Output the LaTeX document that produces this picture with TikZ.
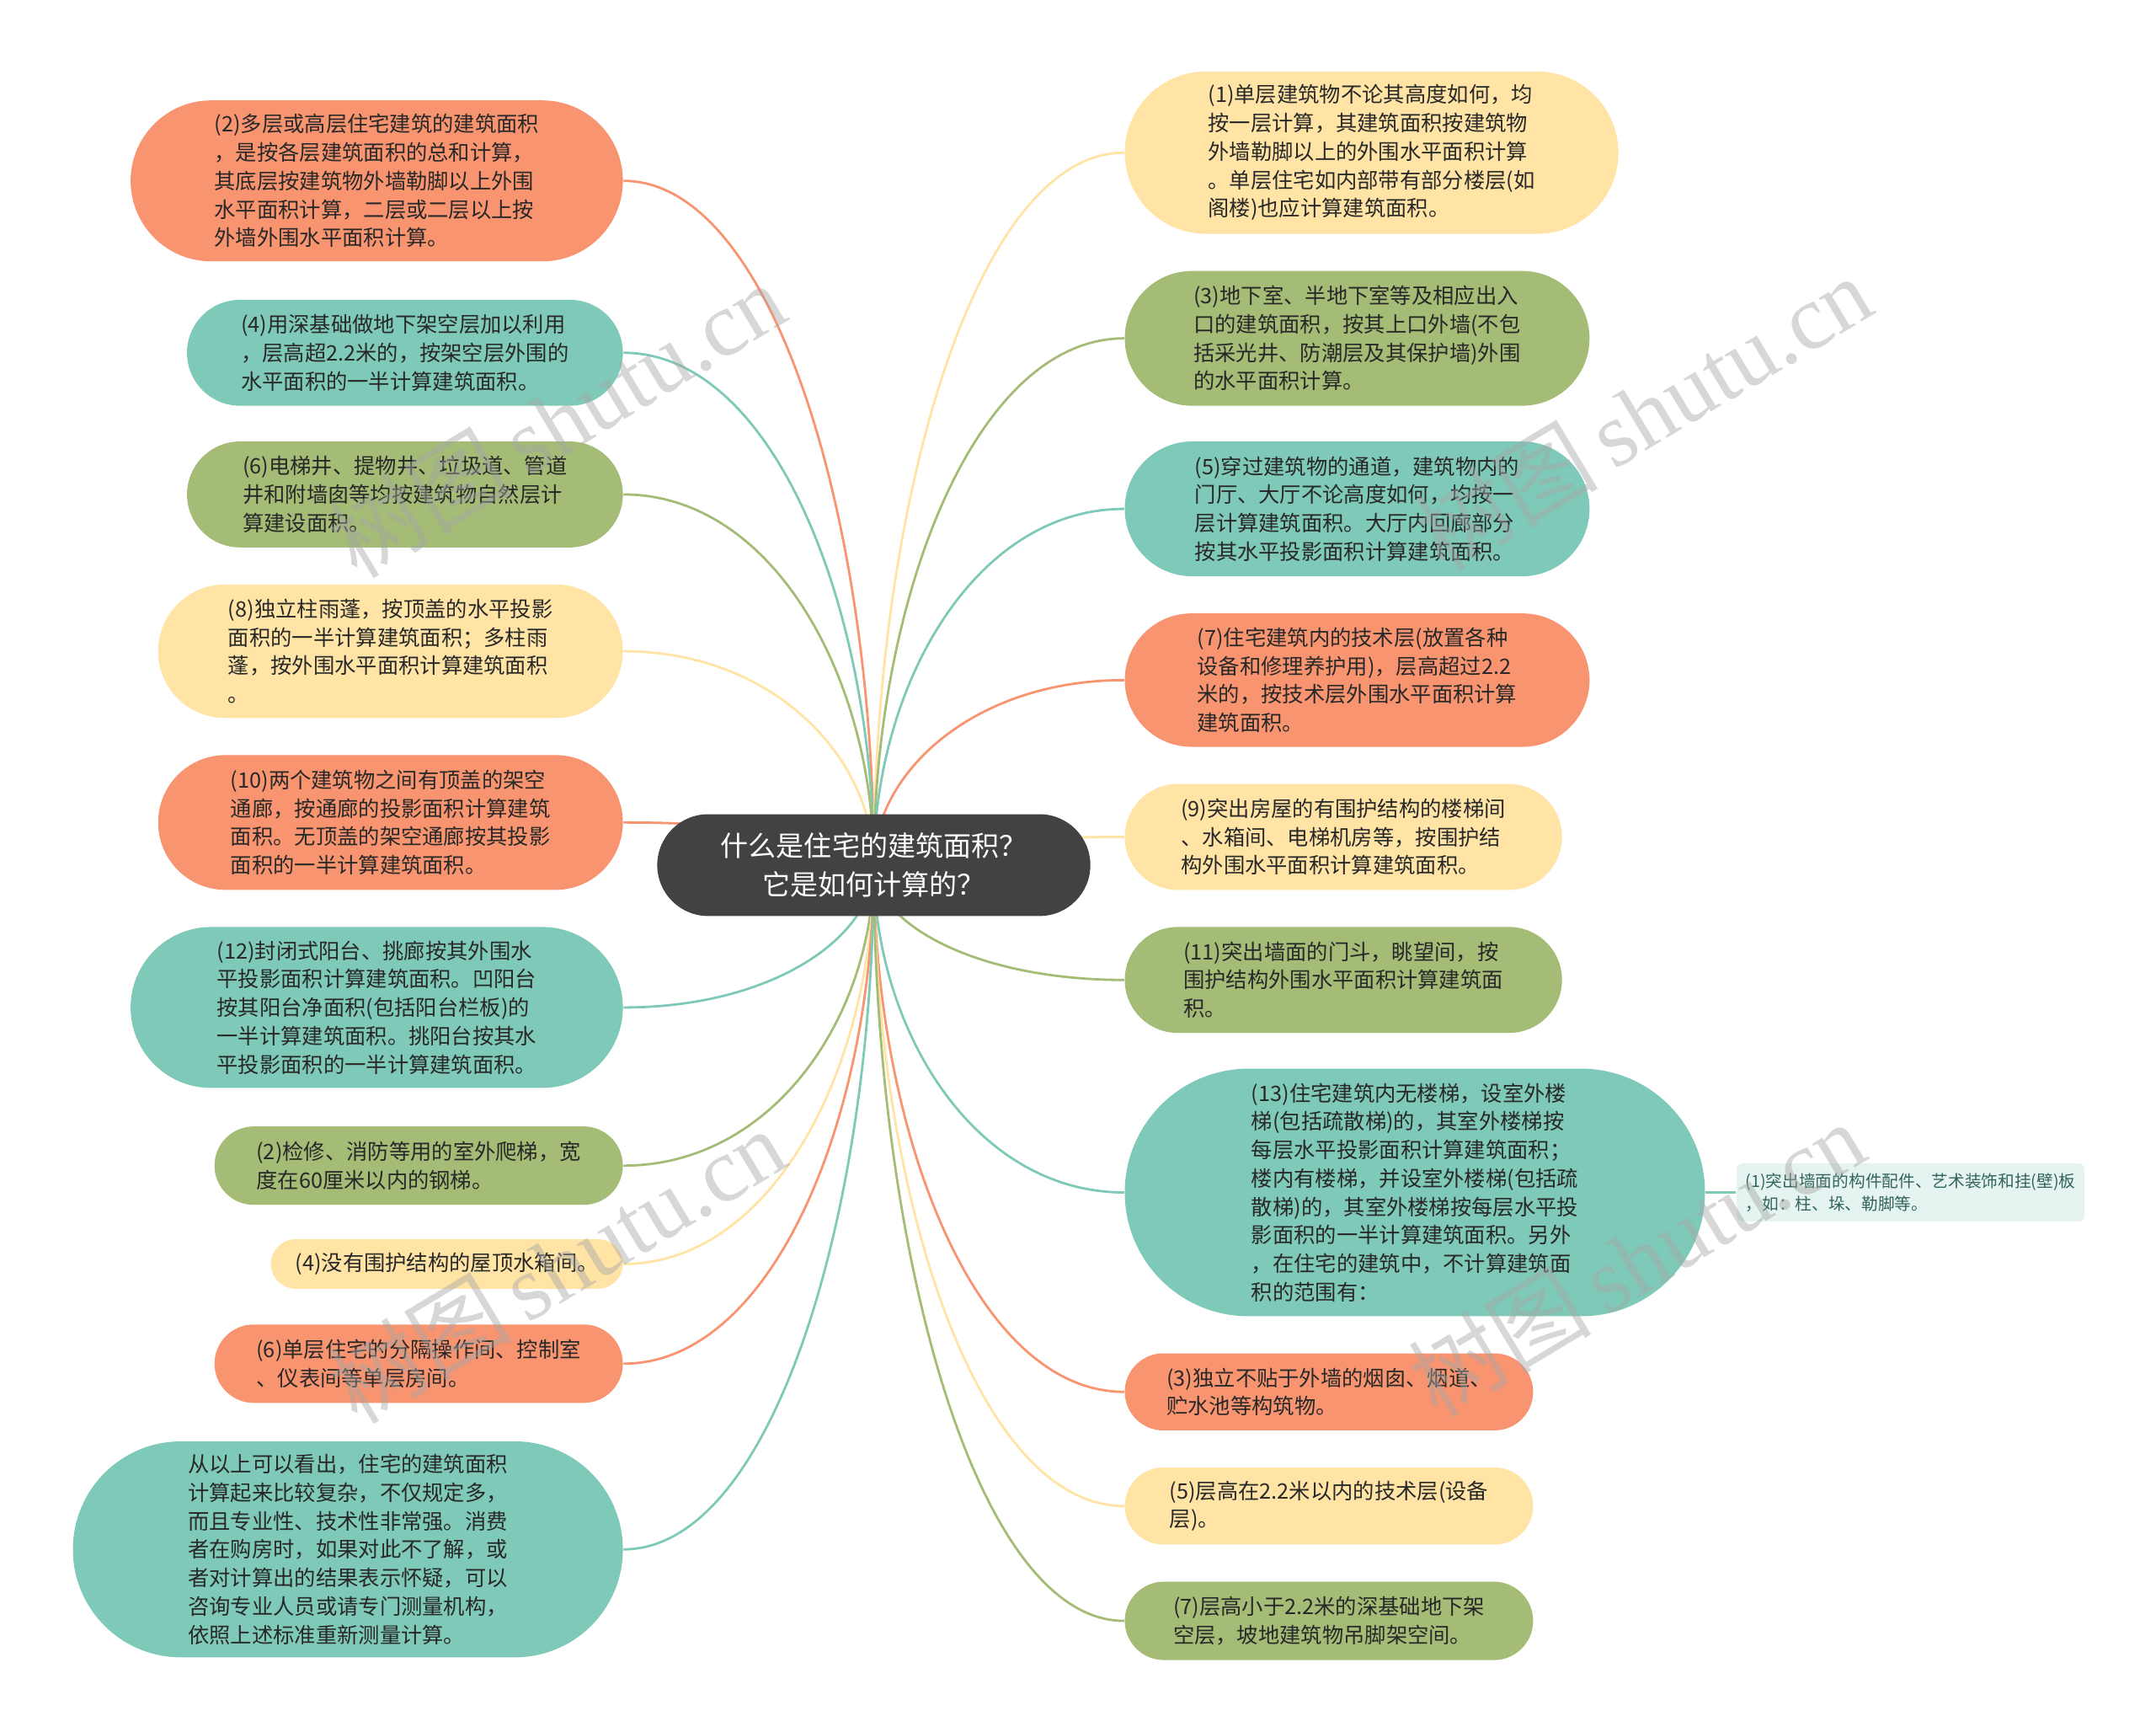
\documentclass[tikz,border=0pt]{standalone}
\usepackage{fontspec}
\setmainfont{Noto Sans CJK SC}
\newfontfamily\markfont{Liberation Serif}
\usepackage{tikz}
\usetikzlibrary{calc}
\usepackage{xcolor}
\definecolor{leaforange}{RGB}{248,149,112}
\definecolor{leafteal}  {RGB}{127,201,185}
\definecolor{leafgreen} {RGB}{164,188,118}
\definecolor{leafyellow}{RGB}{255,228,166}
\definecolor{rootgrey}  {RGB}{66 ,66 ,66 }
\definecolor{leaftext}  {RGB}{40 ,40 ,40 }
\definecolor{notefill}  {RGB}{229,244,240}
\definecolor{notetext}  {RGB}{50 ,100,90 }
\newdimen\spx
\spx=0.016327cm
\pgfdeclarelayer{background}
\pgfdeclarelayer{foreground}
\pgfsetlayers{background,main,foreground}

\begin{document}
\begin{tikzpicture}[
  x=\spx, y=-\spx,
  root/.style={fill=rootgrey, text=white, align=center, inner sep=0pt,
    font=\fontsize{9.4}{13}\selectfont, minimum width=315\spx, minimum height=74\spx,
    rounded corners=37\spx},
  leaf/.style n args={3}{fill=#1, text=leaftext, align=left, inner sep=0pt,
    font=\fontsize{7.2}{9.6}\selectfont, minimum width=#2\spx, minimum height=#3\spx,
    rounded corners=0.5*#3\spx},
  note/.style={fill=notefill, text=notetext, align=left, inner sep=0pt,
    font=\fontsize{5.6}{7.6}\selectfont, minimum width=253\spx, minimum height=42\spx,
    rounded corners=4\spx},
  branch/.style={draw=#1, line width=0.8pt},
  wmark/.style={text=gray!70, opacity=0.45, rotate=31, font=\fontsize{31}{31}\selectfont}
]
  \useasboundingbox (0,0) rectangle (1568,1259);

  % Root
  \node[root] (root) at (635.5,629) {什么是住宅的建筑面积？\\它是如何计算的？};

  % Left branches
  \node[leaf={leaforange}{358}{117}] (l1) at (274,131.5) {(2)多层或高层住宅建筑的建筑面积\\，是按各层建筑面积的总和计算，\\其底层按建筑物外墙勒脚以上外围\\水平面积计算，二层或二层以上按\\外墙外围水平面积计算。};
  \node[leaf={leafteal}{317}{77}] (l2) at (294.5,256.5) {(4)用深基础做地下架空层加以利用\\，层高超2.2米的，按架空层外围的\\水平面积的一半计算建筑面积。};
  \node[leaf={leafgreen}{317}{77}] (l3) at (294.5,359.5) {(6)电梯井、提物井、垃圾道、管道\\井和附墙囱等均按建筑物自然层计\\算建设面积。};
  \node[leaf={leafyellow}{338}{97}] (l4) at (284,473.5) {(8)独立柱雨蓬，按顶盖的水平投影\\面积的一半计算建筑面积；多柱雨\\蓬，按外围水平面积计算建筑面积\\。};
  \node[leaf={leaforange}{338}{98}] (l5) at (284,598) {(10)两个建筑物之间有顶盖的架空\\通廊，按通廊的投影面积计算建筑\\面积。无顶盖的架空通廊按其投影\\面积的一半计算建筑面积。};
  \node[leaf={leafteal}{358}{117}] (l6) at (274,732.5) {(12)封闭式阳台、挑廊按其外围水\\平投影面积计算建筑面积。凹阳台\\按其阳台净面积(包括阳台栏板)的\\一半计算建筑面积。挑阳台按其水\\平投影面积的一半计算建筑面积。};
  \node[leaf={leafgreen}{297}{57}] (l7) at (304.5,847.5) {(2)检修、消防等用的室外爬梯，宽\\度在60厘米以内的钢梯。};
  \node[leaf={leafyellow}{256}{36}] (l8) at (325,919) {(4)没有围护结构的屋顶水箱间。};
  \node[leaf={leaforange}{297}{57}] (l9) at (304.5,991.5) {(6)单层住宅的分隔操作间、控制室\\、仪表间等单层房间。};
  \node[leaf={leafteal}{400}{157}] (l10) at (253,1126.5) {从以上可以看出，住宅的建筑面积\\计算起来比较复杂，不仅规定多，\\而且专业性、技术性非常强。消费\\者在购房时，如果对此不了解，或\\者对计算出的结果表示怀疑，可以\\咨询专业人员或请专门测量机构，\\依照上述标准重新测量计算。};

  % Right branches
  \node[leaf={leafyellow}{359}{118}] (r1) at (997.5,111) {(1)单层建筑物不论其高度如何，均\\按一层计算，其建筑面积按建筑物\\外墙勒脚以上的外围水平面积计算\\。单层住宅如内部带有部分楼层(如\\阁楼)也应计算建筑面积。};
  \node[leaf={leafgreen}{338}{98}] (r2) at (987,246) {(3)地下室、半地下室等及相应出入\\口的建筑面积，按其上口外墙(不包\\括采光井、防潮层及其保护墙)外围\\的水平面积计算。};
  \node[leaf={leafteal}{338}{98}] (r3) at (987,370) {(5)穿过建筑物的通道，建筑物内的\\门厅、大厅不论高度如何，均按一\\层计算建筑面积。大厅内回廊部分\\按其水平投影面积计算建筑面积。};
  \node[leaf={leaforange}{338}{97}] (r4) at (987,494.5) {(7)住宅建筑内的技术层(放置各种\\设备和修理养护用)，层高超过2.2\\米的，按技术层外围水平面积计算\\建筑面积。};
  \node[leaf={leafyellow}{318}{77}] (r5) at (977,608.5) {(9)突出房屋的有围护结构的楼梯间\\、水箱间、电梯机房等，按围护结\\构外围水平面积计算建筑面积。};
  \node[leaf={leafgreen}{318}{77}] (r6) at (977,712.5) {(11)突出墙面的门斗，眺望间，按\\围护结构外围水平面积计算建筑面\\积。};
  \node[leaf={leafteal}{422}{180}] (r7) at (1029,867) {(13)住宅建筑内无楼梯，设室外楼\\梯(包括疏散梯)的，其室外楼梯按\\每层水平投影面积计算建筑面积；\\楼内有楼梯，并设室外楼梯(包括疏\\散梯)的，其室外楼梯按每层水平投\\影面积的一半计算建筑面积。另外\\，在住宅的建筑中，不计算建筑面\\积的范围有：};
  \node[leaf={leaforange}{297}{56}] (r8) at (966.5,1012) {(3)独立不贴于外墙的烟囱、烟道、\\贮水池等构筑物。};
  \node[leaf={leafyellow}{297}{56}] (r9) at (966.5,1095) {(5)层高在2.2米以内的技术层(设备\\层)。};
  \node[leaf={leafgreen}{297}{57}] (r10) at (966.5,1178.5) {(7)层高小于2.2米的深基础地下架\\空层，坡地建筑物吊脚架空间。};
  \node[note] (r11) at (1389.5,867) {(1)突出墙面的构件配件、艺术装饰和挂(壁)板\\，如：柱、垛、勒脚等。};

  % Connectors
  \begin{pgfonlayer}{background}
    \foreach \n/\c in {l1/leaforange, l2/leafteal, l3/leafgreen, l4/leafyellow, l5/leaforange,
                       l6/leafteal, l7/leafgreen, l8/leafyellow, l9/leaforange, l10/leafteal}
      \draw[branch=\c] (\n.east) .. controls ($(\n.east)!0.6!(root.center |- \n.east)$)
        and ($(root.center)!0.5!(root.center |- \n.east)$) .. (root.center);
    \foreach \n/\c in {r1/leafyellow, r2/leafgreen, r3/leafteal, r4/leaforange, r5/leafyellow,
                       r6/leafgreen, r7/leafteal, r8/leaforange, r9/leafyellow, r10/leafgreen}
      \draw[branch=\c] (\n.west) .. controls ($(\n.west)!0.6!(root.center |- \n.west)$)
        and ($(root.center)!0.5!(root.center |- \n.west)$) .. (root.center);
    \draw[branch=leafteal] (r7.east) -- (r11.west);
  \end{pgfonlayer}

  % Watermarks
  \begin{pgfonlayer}{foreground}
    \node[wmark] (wm1) at (405,305) {树图\,{\markfont shutu.cn}};
    \node[wmark] (wm2) at (1195,300) {树图\,{\markfont shutu.cn}};
    \node[wmark] (wm3) at (405,920) {树图\,{\markfont shutu.cn}};
    \node[wmark] (wm4) at (1190,915) {树图\,{\markfont shutu.cn}};
  \end{pgfonlayer}
\end{tikzpicture}
\end{document}
